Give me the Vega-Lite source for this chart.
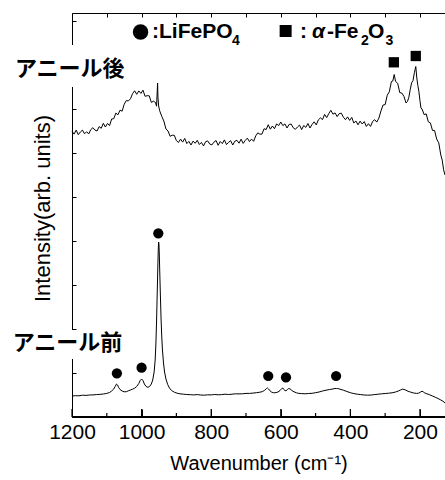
{
"$schema":"https://vega.github.io/schema/vega-lite/v6.json",
"width":373,"height":404,
"autosize":"none",
"padding":{"left":72,"top":13,"right":0,"bottom":63},
"background":"white",
"config":{"view":{"stroke":null},"axis":{"domainColor":"black","tickColor":"black","labelColor":"black","titleColor":"black","grid":false,"labelFont":"Liberation Sans","titleFont":"Liberation Sans","domainWidth":1,"tickWidth":1}},
"datasets":{
"after":[
{"w":1200,"i":285.8},{"w":1194,"i":282.9},{"w":1188,"i":286.9},{"w":1182,"i":282.3},{"w":1176,"i":285.0},{"w":1170,"i":286.9},{"w":1164,"i":283.2},{"w":1158,"i":285.3},{"w":1152,"i":283.0},{"w":1146,"i":287.4},{"w":1140,"i":289.3},{"w":1134,"i":286.9},{"w":1128,"i":286.0},{"w":1122,"i":290.4},{"w":1116,"i":288.7},{"w":1110,"i":293.7},{"w":1104,"i":290.0},{"w":1098,"i":293.6},{"w":1092,"i":291.4},{"w":1086,"i":298.0},{"w":1080,"i":298.3},{"w":1074,"i":303.9},{"w":1068,"i":302.2},{"w":1062,"i":306.8},{"w":1056,"i":305.8},{"w":1050,"i":312.7},{"w":1044,"i":316.4},{"w":1038,"i":316.1},{"w":1032,"i":318.2},{"w":1026,"i":323.3},{"w":1020,"i":326.2},{"w":1014,"i":322.7},{"w":1008,"i":326.1},{"w":1002,"i":323.6},{"w":996,"i":326.8},{"w":990,"i":320.7},{"w":984,"i":321.3},{"w":978,"i":321.2},{"w":972,"i":314.6},{"w":966,"i":315.8},{"w":960,"i":314.5},{"w":957,"i":310.8},{"w":955,"i":326},{"w":954,"i":334},{"w":953,"i":320},{"w":951,"i":311},{"w":948,"i":306.2},{"w":942,"i":300.7},{"w":936,"i":295.9},{"w":930,"i":288.0},{"w":924,"i":286.0},{"w":918,"i":280.7},{"w":912,"i":281.8},{"w":906,"i":281.7},{"w":900,"i":276.4},{"w":894,"i":274.5},{"w":888,"i":277.9},{"w":882,"i":274.9},{"w":876,"i":278.6},{"w":870,"i":273.4},{"w":864,"i":275.6},{"w":858,"i":272.0},{"w":852,"i":275.9},{"w":846,"i":273.7},{"w":840,"i":276.7},{"w":834,"i":272.5},{"w":828,"i":274.6},{"w":822,"i":271.1},{"w":816,"i":275.3},{"w":810,"i":276.1},{"w":804,"i":272.9},{"w":798,"i":272.1},{"w":792,"i":274.9},{"w":786,"i":276.5},{"w":780,"i":271.7},{"w":774,"i":275.5},{"w":768,"i":273.4},{"w":762,"i":277.1},{"w":756,"i":272.4},{"w":750,"i":274.7},{"w":744,"i":276.3},{"w":738,"i":272.0},{"w":732,"i":275.8},{"w":726,"i":276.7},{"w":720,"i":273.8},{"w":714,"i":277.8},{"w":708,"i":273.6},{"w":702,"i":276.6},{"w":696,"i":278.9},{"w":690,"i":275.4},{"w":684,"i":277.9},{"w":678,"i":275.7},{"w":672,"i":281.1},{"w":666,"i":284.1},{"w":660,"i":282.8},{"w":654,"i":282.9},{"w":648,"i":288.3},{"w":642,"i":287.4},{"w":636,"i":292.3},{"w":630,"i":287.8},{"w":624,"i":291.0},{"w":618,"i":288.3},{"w":612,"i":293.1},{"w":606,"i":291.4},{"w":600,"i":295.0},{"w":594,"i":291.4},{"w":588,"i":293.1},{"w":582,"i":289.0},{"w":576,"i":292.6},{"w":570,"i":292.9},{"w":564,"i":289.2},{"w":558,"i":287.7},{"w":552,"i":290.0},{"w":546,"i":291.9},{"w":540,"i":287.4},{"w":534,"i":291.5},{"w":528,"i":289.6},{"w":522,"i":293.5},{"w":516,"i":289.0},{"w":510,"i":292.5},{"w":504,"i":295.2},{"w":498,"i":292.1},{"w":492,"i":297.1},{"w":486,"i":299.1},{"w":480,"i":297.4},{"w":474,"i":302.6},{"w":468,"i":299.4},{"w":462,"i":303.4},{"w":456,"i":306.7},{"w":450,"i":302.8},{"w":444,"i":304.1},{"w":438,"i":300.4},{"w":432,"i":303.4},{"w":426,"i":303.8},{"w":420,"i":299.8},{"w":414,"i":297.3},{"w":408,"i":300.1},{"w":402,"i":296.6},{"w":396,"i":299.6},{"w":390,"i":294.0},{"w":384,"i":296.0},{"w":378,"i":292.2},{"w":372,"i":295.9},{"w":366,"i":293.0},{"w":360,"i":295.4},{"w":354,"i":290.6},{"w":348,"i":293.3},{"w":342,"i":290.6},{"w":336,"i":295.6},{"w":330,"i":297.3},{"w":324,"i":294.9},{"w":318,"i":298.9},{"w":312,"i":306.1},{"w":306,"i":312.0},{"w":300,"i":312.4},{"w":294,"i":321.8},{"w":288,"i":325.2},{"w":282,"i":335.5},{"w":278,"i":336.0},{"w":274,"i":342.5},{"w":270,"i":335.5},{"w":264,"i":333.7},{"w":258,"i":324.4},{"w":252,"i":323.9},{"w":246,"i":320.6},{"w":240,"i":314.0},{"w":236,"i":315.5},{"w":232,"i":319.6},{"w":228,"i":327.3},{"w":224,"i":334.2},{"w":220,"i":336.3},{"w":216,"i":344.3},{"w":212,"i":350.5},{"w":209,"i":339},{"w":206,"i":331.4},{"w":203,"i":325.4},{"w":200,"i":316.4},{"w":197,"i":308.8},{"w":194,"i":308.1},{"w":188,"i":302.4},{"w":182,"i":303.1},{"w":176,"i":295.2},{"w":170,"i":294.1},{"w":164,"i":286.6},{"w":158,"i":286.6},{"w":152,"i":278.0},{"w":146,"i":274.2},{"w":140,"i":261.9},{"w":136,"i":256.9},{"w":132,"i":247.2},{"w":128,"i":242}
],
"before":[
{"w":1200,"i":21},{"w":1190,"i":21.3},{"w":1180,"i":21.2},{"w":1170,"i":21.8},{"w":1160,"i":21.6},{"w":1150,"i":22},{"w":1140,"i":22.1},{"w":1130,"i":22.4},{"w":1120,"i":22.6},{"w":1110,"i":23},{"w":1100,"i":23.6},{"w":1092,"i":24.5},{"w":1086,"i":26},{"w":1080,"i":28},{"w":1076,"i":30.5},{"w":1072,"i":33},{"w":1069,"i":32},{"w":1066,"i":29.5},{"w":1062,"i":27.5},{"w":1056,"i":26},{"w":1050,"i":25.2},{"w":1044,"i":25.3},{"w":1038,"i":26.2},{"w":1032,"i":27},{"w":1026,"i":27.8},{"w":1020,"i":28.8},{"w":1014,"i":30.5},{"w":1008,"i":33.5},{"w":1004,"i":36.5},{"w":1000,"i":38},{"w":996,"i":36.5},{"w":992,"i":33},{"w":987,"i":30.5},{"w":982,"i":29.7},{"w":977,"i":30.5},{"w":972,"i":33},{"w":968,"i":37},{"w":964,"i":45},{"w":961,"i":57},{"w":959,"i":72},{"w":957,"i":95},{"w":955,"i":125},{"w":953,"i":155},{"w":952,"i":168},{"w":951,"i":175},{"w":950,"i":172},{"w":949,"i":162},{"w":948,"i":148},{"w":946,"i":122},{"w":944,"i":98},{"w":942,"i":80},{"w":940,"i":67},{"w":937,"i":54},{"w":934,"i":45},{"w":930,"i":38},{"w":925,"i":32.5},{"w":920,"i":29},{"w":914,"i":26.5},{"w":906,"i":24.8},{"w":898,"i":23.8},{"w":890,"i":23.2},{"w":880,"i":22.8},{"w":870,"i":22.5},{"w":860,"i":22.3},{"w":850,"i":22.1},{"w":840,"i":22.4},{"w":830,"i":22},{"w":820,"i":21.8},{"w":810,"i":22.2},{"w":800,"i":22.1},{"w":790,"i":22.5},{"w":780,"i":22.2},{"w":770,"i":22.4},{"w":760,"i":22.8},{"w":750,"i":22.5},{"w":740,"i":22.8},{"w":730,"i":23.2},{"w":720,"i":23.1},{"w":710,"i":23.2},{"w":700,"i":23.6},{"w":690,"i":23.6},{"w":680,"i":23.9},{"w":670,"i":24.3},{"w":660,"i":24.8},{"w":652,"i":25.5},{"w":646,"i":26.8},{"w":641,"i":28.5},{"w":638,"i":29},{"w":635,"i":28},{"w":631,"i":26.2},{"w":626,"i":24.8},{"w":620,"i":24.2},{"w":614,"i":24.4},{"w":608,"i":25},{"w":602,"i":26.5},{"w":597,"i":28.5},{"w":594,"i":29},{"w":591,"i":27.5},{"w":588,"i":26.5},{"w":585,"i":26.2},{"w":581,"i":27.5},{"w":577,"i":28.5},{"w":573,"i":28},{"w":568,"i":26.5},{"w":562,"i":25.2},{"w":555,"i":24.2},{"w":548,"i":23.6},{"w":540,"i":23.4},{"w":530,"i":23.2},{"w":520,"i":23.5},{"w":510,"i":23.7},{"w":500,"i":24.3},{"w":490,"i":25},{"w":480,"i":26},{"w":470,"i":26.8},{"w":460,"i":27.5},{"w":450,"i":28},{"w":444,"i":28.6},{"w":440,"i":28.4},{"w":436,"i":28.5},{"w":430,"i":27.8},{"w":420,"i":26.8},{"w":410,"i":25.5},{"w":400,"i":24.3},{"w":390,"i":23.4},{"w":380,"i":22.8},{"w":370,"i":22.4},{"w":360,"i":22},{"w":350,"i":21.8},{"w":340,"i":22},{"w":330,"i":22.4},{"w":320,"i":22.8},{"w":310,"i":23.2},{"w":300,"i":23.5},{"w":290,"i":23.8},{"w":280,"i":24.2},{"w":270,"i":25},{"w":262,"i":26},{"w":256,"i":27},{"w":250,"i":27.8},{"w":246,"i":27.6},{"w":240,"i":26.8},{"w":234,"i":25.7},{"w":226,"i":24.8},{"w":218,"i":24},{"w":210,"i":23.6},{"w":204,"i":23.8},{"w":198,"i":25},{"w":194,"i":25.8},{"w":190,"i":25},{"w":186,"i":24},{"w":180,"i":23.2},{"w":172,"i":22.2},{"w":164,"i":21},{"w":156,"i":19.8},{"w":148,"i":18.5},{"w":140,"i":17},{"w":134,"i":15.8},{"w":128,"i":14}
],
"sym":[
{"w":1071,"i":43.7,"k":"c"},{"w":1000,"i":49.3,"k":"c"},{"w":952,"i":183.7,"k":"c"},{"w":636,"i":41,"k":"c"},{"w":585,"i":39.7,"k":"c"},{"w":441,"i":41,"k":"c"},
{"w":275,"i":354.7,"k":"s"},{"w":212,"i":361,"k":"s"},
{"w":1003,"i":385,"k":"lc"},{"w":586,"i":386,"k":"ls"}
],
"txt":[
{"w":970,"i":378.7,"t":":LiFePO","k":"main"},{"w":740,"i":372,"t":"4","k":"sub"},
{"w":544.7,"i":378.7,"t":":","k":"main"},{"w":510,"i":378.7,"t":"α","k":"greek"},{"w":467,"i":378.7,"t":"-Fe","k":"main"},{"w":369.4,"i":372,"t":"2","k":"sub"},{"w":349.3,"i":378.7,"t":"O","k":"main"},{"w":299,"i":372,"t":"3","k":"sub"},
{"w":1363.8,"i":348,"t":"アニール後","k":"jp"},{"w":1370.4,"i":74,"t":"アニール前","k":"jp"}
],
"boxes":[
{"w":1372,"w2":1039,"i":330,"i2":372},{"w":1378,"w2":1039,"i":58,"i2":87}
],
"frame":[
{"w":1200,"i":0.3,"g":"f"},{"w":128,"i":0.3,"g":"f"},
{"w":1200,"i":0,"g":"a"},{"w":1200,"i":8,"g":"a"},{"w":1100,"i":0,"g":"b"},{"w":1100,"i":4,"g":"b"},{"w":1000,"i":0,"g":"c"},{"w":1000,"i":8,"g":"c"},{"w":900,"i":0,"g":"d"},{"w":900,"i":4,"g":"d"},{"w":800,"i":0,"g":"e"},{"w":800,"i":8,"g":"e"},{"w":700,"i":0,"g":"h"},{"w":700,"i":4,"g":"h"},{"w":600,"i":0,"g":"j"},{"w":600,"i":8,"g":"j"},{"w":500,"i":0,"g":"k"},{"w":500,"i":4,"g":"k"},{"w":400,"i":0,"g":"l"},{"w":400,"i":8,"g":"l"},{"w":300,"i":0,"g":"m"},{"w":300,"i":4,"g":"m"},{"w":200,"i":0,"g":"n"},{"w":200,"i":8,"g":"n"}
]
},
"encoding":{
 "x":{"field":"w","type":"quantitative","scale":{"domain":[1200,128],"nice":false,"zero":false},"axis":null},
 "y":{"field":"i","type":"quantitative","scale":{"domain":[0,404],"nice":false,"zero":false},
   "axis":{"orient":"left","values":[44,88,132,176,220,264,308,352,396],"tickSize":-4,"labels":false,"domain":true,"ticks":true,
   "title":"Intensity(arb. units)","titleFontSize":22,"titleFontWeight":"normal","titlePadding":17,"titleY":195}}
},
"layer":[
{"data":{"name":"after"},"mark":{"type":"line","color":"black","strokeWidth":1},
 "encoding":{"x":{"field":"w","type":"quantitative","scale":{"domain":[1200,128],"nice":false,"zero":false},
   "axis":{"orient":"bottom","values":[1200,1000,800,600,400,200],"tickSize":-8,"domain":true,"ticks":true,
   "labelExpr":"'' + datum.value","labelFontSize":21,"labelPadding":12,"labelFlush":false,"labelOverlap":false,
   "title":"Wavenumber (cm⁻¹)","titleFontSize":20,"titleFontWeight":"normal","titlePadding":11}}}},
{"data":{"name":"before"},"mark":{"type":"line","color":"black","strokeWidth":1},
 "encoding":{"x":{"field":"w","type":"quantitative","scale":{"domain":[1200,128],"nice":false,"zero":false},
   "axis":{"orient":"top","values":[1200,1100,1000,900,800,700,600,500,400,300,200],"tickSize":-4,"labels":false,"title":null,"domain":true,"ticks":true}}}},
{"data":{"name":"frame"},"mark":{"type":"line","color":"black","strokeWidth":1.2},
 "encoding":{"detail":{"field":"g","type":"nominal"}}},
{"data":{"name":"boxes"},"mark":{"type":"rect","color":"white"},
 "encoding":{"x2":{"field":"w2"},"y2":{"field":"i2"}}},
{"data":{"name":"sym"},"transform":[{"filter":"datum.k === 'c'"}],"mark":{"type":"point","shape":"circle","filled":true,"color":"black","opacity":1,"size":105}},
{"data":{"name":"sym"},"transform":[{"filter":"datum.k === 'lc'"}],"mark":{"type":"point","shape":"circle","filled":true,"color":"black","opacity":1,"size":240}},
{"data":{"name":"sym"},"transform":[{"filter":"datum.k === 's'"}],"mark":{"type":"point","shape":"square","filled":true,"color":"black","opacity":1,"size":106}},
{"data":{"name":"sym"},"transform":[{"filter":"datum.k === 'ls'"}],"mark":{"type":"point","shape":"square","filled":true,"color":"black","opacity":1,"size":144}},
{"data":{"name":"txt"},"transform":[{"filter":"datum.k === 'main'"}],"mark":{"type":"text","align":"left","baseline":"alphabetic","font":"Liberation Sans","fontWeight":"bold","fontSize":21,"color":"black"},
 "encoding":{"text":{"field":"t"}}},
{"data":{"name":"txt"},"transform":[{"filter":"datum.k === 'sub'"}],"mark":{"type":"text","align":"left","baseline":"alphabetic","font":"Liberation Sans","fontWeight":"bold","fontSize":14,"color":"black"},
 "encoding":{"text":{"field":"t"}}},
{"data":{"name":"txt"},"transform":[{"filter":"datum.k === 'greek'"}],"mark":{"type":"text","align":"left","baseline":"alphabetic","font":"Liberation Sans","fontWeight":"bold","fontStyle":"italic","fontSize":21,"color":"black"},
 "encoding":{"text":{"field":"t"}}},
{"data":{"name":"txt"},"transform":[{"filter":"datum.k === 'jp'"}],"mark":{"type":"text","align":"left","baseline":"middle","font":"Noto Sans CJK JP","fontWeight":"bold","fontSize":22,"color":"black"},
 "encoding":{"text":{"field":"t"}}}
],
"resolve":{"axis":{"x":"independent"}}
}
